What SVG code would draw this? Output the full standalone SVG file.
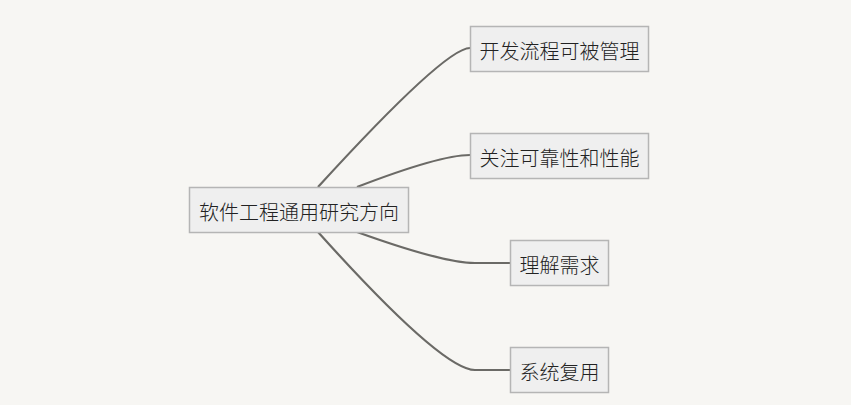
<svg xmlns="http://www.w3.org/2000/svg" width="851" height="405" viewBox="0 0 851 405">
<style>
.bg{fill:#f7f6f3}
.box{fill:#efefef;stroke:#b5b5b5;stroke-width:1.5}
.lbl{font-family:"Noto Sans CJK SC","Noto Sans",sans-serif;font-size:20px;font-weight:300;fill:#222;text-anchor:middle;dominant-baseline:central}
.conn{fill:none;stroke:#6b6a66;stroke-width:2.2}
</style>
<rect class="bg" x="0" y="0" width="851" height="405"/>
<g id="connectors">
<path class="conn" d="M318 187 Q445 48 470 48"/>
<path class="conn" d="M357 187 Q440 155 470 155"/>
<path class="conn" d="M357 232 Q443 263 475 263 L510 263"/>
<path class="conn" d="M318 232 Q442 370 475 370 L510 370"/>
</g>
<g id="root">
<rect class="box" x="189.5" y="187.5" width="219" height="45"/>
<text class="lbl" x="299" y="211">软件工程通用研究方向</text>
</g>
<g id="n1">
<rect class="box" x="470.5" y="26.5" width="178" height="45"/>
<text class="lbl" x="559.5" y="50">开发流程可被管理</text>
</g>
<g id="n2">
<rect class="box" x="470.5" y="133.5" width="178" height="45"/>
<text class="lbl" x="559.5" y="157">关注可靠性和性能</text>
</g>
<g id="n3">
<rect class="box" x="510.5" y="240.5" width="98" height="45"/>
<text class="lbl" x="559.5" y="264">理解需求</text>
</g>
<g id="n4">
<rect class="box" x="510.5" y="347.5" width="98" height="45"/>
<text class="lbl" x="559.5" y="371">系统复用</text>
</g>
</svg>
